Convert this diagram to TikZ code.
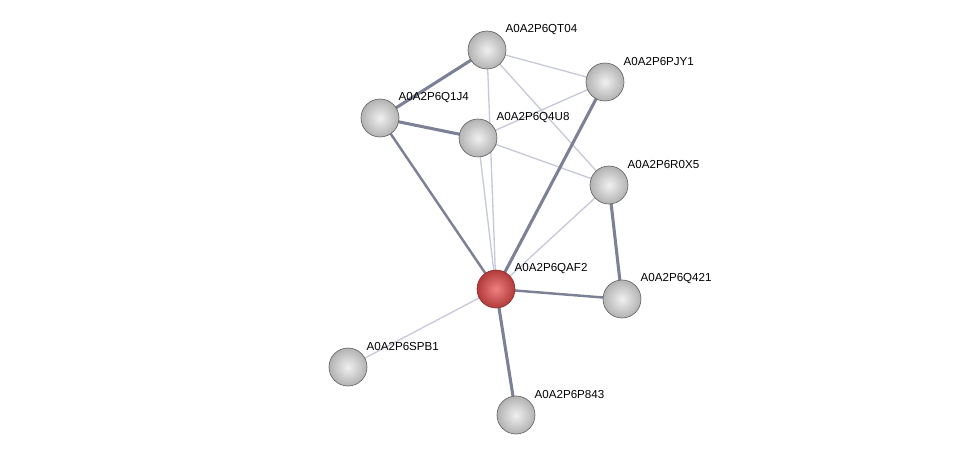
\documentclass[tikz,border=0pt]{standalone}
\usepackage{fontspec}
\setmainfont{Liberation Sans}
\usetikzlibrary{backgrounds,calc}

\definecolor{edgedark}{RGB}{124,129,150}
\definecolor{edgelight}{RGB}{198,201,214}
\definecolor{ballred}{RGB}{238,128,128}
\definecolor{ballredrim}{RGB}{178,58,58}

\begin{document}
\begin{tikzpicture}[
    x=0.02cm, y=-0.02cm,
    prot/.style={circle, minimum size=0.76cm, inner sep=0pt,
                 draw=gray!75!black, line width=0.35pt,
                 shading=radial, inner color=gray!12, outer color=gray!60,
                 path picture={\fill[white, opacity=0.95]
                   ($(path picture bounding box.north)+(0,-0.14)$) ellipse (0.22 and 0.1);}},
    query/.style={prot, draw=ballredrim!80!black,
                  inner color=ballred, outer color=ballredrim},
    lbl/.style={font=\fontsize{6.6}{8}\selectfont,
                inner sep=0pt, xshift=-0.02cm, yshift=0.41cm},
    strong/.style={draw=edgedark, line width=1.75pt},
    medium/.style={draw=edgedark, line width=1.4pt},
    weak/.style={draw=edgelight, line width=0.75pt}
]
    \useasboundingbox (0,0) rectangle (975,460);

    \node[prot] (qt04) at (487, 50) [label={[lbl]0:A0A2P6QT04}] {};
    \node[prot] (pjy1) at (605, 82) [label={[lbl]0:A0A2P6PJY1}] {};
    \node[prot] (q1j4) at (380,118) [label={[lbl]0:A0A2P6Q1J4}] {};
    \node[prot] (q4u8) at (478,138) [label={[lbl]0:A0A2P6Q4U8}] {};
    \node[prot] (r0x5) at (609,185) [label={[lbl]0:A0A2P6R0X5}] {};
    \node[query] (qaf2) at (496,289) [label={[lbl]0:A0A2P6QAF2}] {};
    \node[prot] (q421) at (622,299) [label={[lbl]0:A0A2P6Q421}] {};
    \node[prot] (spb1) at (348,367) [label={[lbl]0:A0A2P6SPB1}] {};
    \node[prot] (p843) at (516,415) [label={[lbl]0:A0A2P6P843}] {};

    \begin{pgfonlayer}{background}
    % weak links
    \draw[weak] (qt04.center) -- (pjy1.center);
    \draw[weak] (qt04.center) -- (r0x5.center);
    \draw[weak] (qt04.center) -- (qaf2.center);
    \draw[weak] (q4u8.center) -- (pjy1.center);
    \draw[weak] (q4u8.center) -- (r0x5.center);
    \draw[weak] (q4u8.center) -- (qaf2.center);
    \draw[weak] (r0x5.center) -- (qaf2.center);
    \draw[weak] (spb1.center) -- (qaf2.center);
    % strong links
    \draw[strong] (qt04.center) -- (q1j4.center);
    \draw[strong] (q1j4.center) -- (q4u8.center);
    \draw[medium] (q1j4.center) -- (qaf2.center);
    \draw[strong] (pjy1.center) -- (qaf2.center);
    \draw[strong] (r0x5.center) -- (q421.center);
    \draw[medium] (qaf2.center) -- (q421.center);
    \draw[strong] (qaf2.center) -- (p843.center);
    \end{pgfonlayer}
\end{tikzpicture}
\end{document}
